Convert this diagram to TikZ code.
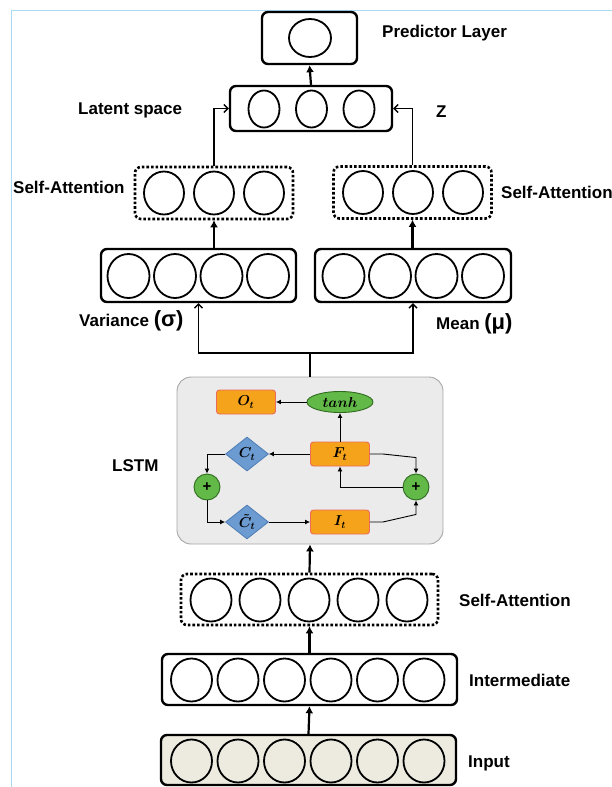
\documentclass[tikz,border=0pt]{standalone}
\usepackage{amsmath}
\usepackage{fontspec}
\setmainfont{Liberation Sans}
\usepackage{tikz}
\usetikzlibrary{shapes.geometric,arrows.meta,positioning,calc}

\definecolor{gateorange}{HTML}{F6A31C}
\definecolor{gateborder}{HTML}{EC6A5A}
\definecolor{cellblue}{HTML}{6C9BD2}
\definecolor{cellborder}{HTML}{4F7DB5}
\definecolor{opgreen}{HTML}{62B947}
\definecolor{opborder}{HTML}{2F6B1E}
\definecolor{lstmgray}{HTML}{EBEBEB}
\definecolor{inputbeige}{HTML}{EDEBE0}
\definecolor{framebleu}{HTML}{A8DAF2}

\begin{document}
\begin{tikzpicture}[
    x=1pt, y=-1pt,
    >={Latex[length=7pt, width=8pt]},
    layer/.style={
        rectangle, draw, rounded corners=6pt,
        line width=2.4pt, inner sep=0pt
    },
    attn/.style={
        rectangle, draw, rounded corners=6pt,
        line width=2.6pt, dotted, inner sep=0pt
    },
    unit/.style={
        ellipse, draw, line width=1.8pt, inner sep=0pt,
        minimum width=41pt, minimum height=43pt
    },
    lbl/.style={
        font=\fontsize{17}{19}\selectfont\bfseries,
        inner sep=0pt, anchor=west
    },
    gate/.style={
        rectangle, draw=gateborder, fill=gateorange, line width=0.9pt,
        rounded corners=3pt, minimum width=59pt, minimum height=24pt,
        inner sep=0pt, font=\fontsize{14.5}{16}\selectfont\boldmath
    },
    cell/.style={
        diamond, draw=cellborder, fill=cellblue, line width=0.8pt,
        minimum width=43pt, minimum height=34pt, inner sep=0pt,
        font=\fontsize{14.5}{16}\selectfont\boldmath
    },
    op/.style={
        circle, draw=opborder, fill=opgreen, line width=0.9pt,
        minimum size=26pt, inner sep=0pt,
        font=\fontsize{15}{15}\selectfont\bfseries
    },
    link/.style={->, line width=2.2pt},
    barb/.style={-{Straight Barb[length=4pt, width=8pt]}, line width=1.4pt},
    flow/.style={-{Latex[length=5pt, width=5pt]}, line width=0.9pt}
]
    \useasboundingbox (0,0) rectangle (612,787);
    \draw[framebleu, line width=0.8pt] (11,787) -- (11,10) -- (612,10);

    % Input and intermediate layers
    \node [layer, fill=inputbeige, minimum width=295pt, minimum height=50pt] (input) at (308.5,760) {};
    \node [layer, minimum width=295pt, minimum height=51pt] (inter) at (309.5,679.5) {};
    \foreach \i in {0,...,5} {
        \node [unit, fill=inputbeige] (in\i) at ({191.5+46.5*\i},761) {};
        \node [unit] (im\i) at ({191.5+46.5*\i},680) {};
    }
    \node [lbl] (inputlbl) at (468,763) {Input};
    \node [lbl] (interlbl) at (469,680) {Intermediate};

    % Self-attention before LSTM
    \node [attn, minimum width=257pt, minimum height=51pt] (sab) at (309.5,599.5) {};
    \foreach \i in {0,...,4}
        \node [unit] (sb\i) at ({211+49*\i},600) {};
    \node [lbl] (sablbl) at (459,600) {Self-Attention};

    % LSTM cell
    \node [rectangle, draw=gray!70, fill=lstmgray, rounded corners=14pt,
           line width=0.9pt, minimum width=266pt, minimum height=167pt] (lstm) at (310,460.5) {};
    \node [lbl] (lstmlbl) at (112,466) {LSTM};

    \node [gate] (ot) at (246,402) {$O_t$};
    \node [ellipse, draw=opborder, fill=opgreen, line width=0.9pt, inner sep=0pt,
           minimum width=66pt, minimum height=21pt,
           font=\fontsize{14.5}{16}\selectfont\boldmath] (tanh) at (340,402) {$tanh$};
    \node [gate] (ft) at (340,454) {$F_t$};
    \node [cell] (ct) at (247,454) {$C_t$};
    \node [op] (addl) at (207,487) {+};
    \node [cell] (ctt) at (247,522) {$\tilde{C}_t$};
    \node [gate] (it) at (340,522) {$I_t$};
    \node [op] (addr) at (416,487) {+};

    \draw [flow] (tanh.west) -- (ot.east);
    \draw [flow] (ft.north) -- (tanh.south);
    \draw [flow] (ft.west) -- (ct.east);
    \draw [flow] (ct.west) -| (addl.north);
    \draw [flow] (addl.south) |- (ctt.west);
    \draw [flow] (ctt.east) -- (it.west);
    \draw [flow] (it.east) -- ++(13,0) -- ($(addr.south)+(0,14)$) -- (addr.south);
    \draw [flow] (ft.east) -- ++(13,0) -- ($(addr.north)+(0,-16)$) -- (addr.north);
    \draw [flow] (addr.west) -| (ft.south);

    % Variance and mean
    \node [layer, minimum width=195pt, minimum height=53pt] (var) at (198.5,275.5) {};
    \node [layer, minimum width=196pt, minimum height=53pt] (mean) at (413,275.5) {};
    \foreach \i in {0,...,3} {
        \node [unit, minimum width=42pt, minimum height=44pt] (v\i) at ({128.5+46.5*\i},276) {};
        \node [unit, minimum width=42pt, minimum height=44pt] (m\i) at ({343.5+46.5*\i},276) {};
    }
    \node [lbl] (varlbl) at (79,321) {Variance {\fontsize{22}{22}\selectfont(σ)}};
    \node [lbl] (meanlbl) at (436,324) {Mean {\fontsize{22}{22}\selectfont(μ)}};

    % Self-attention on both branches
    \node [attn, minimum width=158pt, minimum height=52pt] (sal) at (214,193) {};
    \node [attn, minimum width=158pt, minimum height=52pt] (sar) at (412.5,192.5) {};
    \foreach \i in {0,...,2} {
        \node [unit, minimum width=40pt, minimum height=43pt] (sl\i) at ({164+50*\i},193) {};
        \node [unit, minimum width=40pt, minimum height=43pt] (sr\i) at ({363+50*\i},192.5) {};
    }
    \node [lbl] (sallbl) at (13,187) {Self-Attention};
    \node [lbl] (sarlbl) at (501,192) {Self-Attention};

    % Latent space and predictor
    \node [layer, minimum width=162pt, minimum height=45pt] (latent) at (311,108.5) {};
    \foreach \i in {0,...,2}
        \node [unit, minimum width=31pt, minimum height=37pt] (z\i) at ({264+47.5*\i},109) {};
    \node [lbl] (latentlbl) at (78,110) {Latent space};
    \node [lbl] (zlbl) at (436,112) {Z};

    \node [layer, minimum width=95pt, minimum height=52pt] (pred) at (309.5,38) {};
    \node [unit, minimum width=42pt, minimum height=38pt] (p0) at (310,38) {};
    \node [lbl] (predlbl) at (382,33) {Predictor Layer};

    % Arrows
    \coordinate (split) at (310,353);
    \draw [link] (input.north) -- (inter.south);
    \draw [link] (inter.north) -- (sab.south);
    \draw [link] (sab.north) -- (lstm.south);
    \draw [line width=2.2pt] (lstm.north) -- (split);
    \draw [barb] (split) -| (var.south);
    \draw [barb] (split) -| (mean.south);
    \draw [link] (sal.south |- var.north) -- (sal.south);
    \draw [link] (sar.south |- mean.north) -- (sar.south);
    \draw [barb] (sal.north) |- (latent.west);
    \draw [barb] (sar.north) |- (latent.east);
    \draw [link] (latent.north) -- (pred.south);

\end{tikzpicture}
\end{document}
